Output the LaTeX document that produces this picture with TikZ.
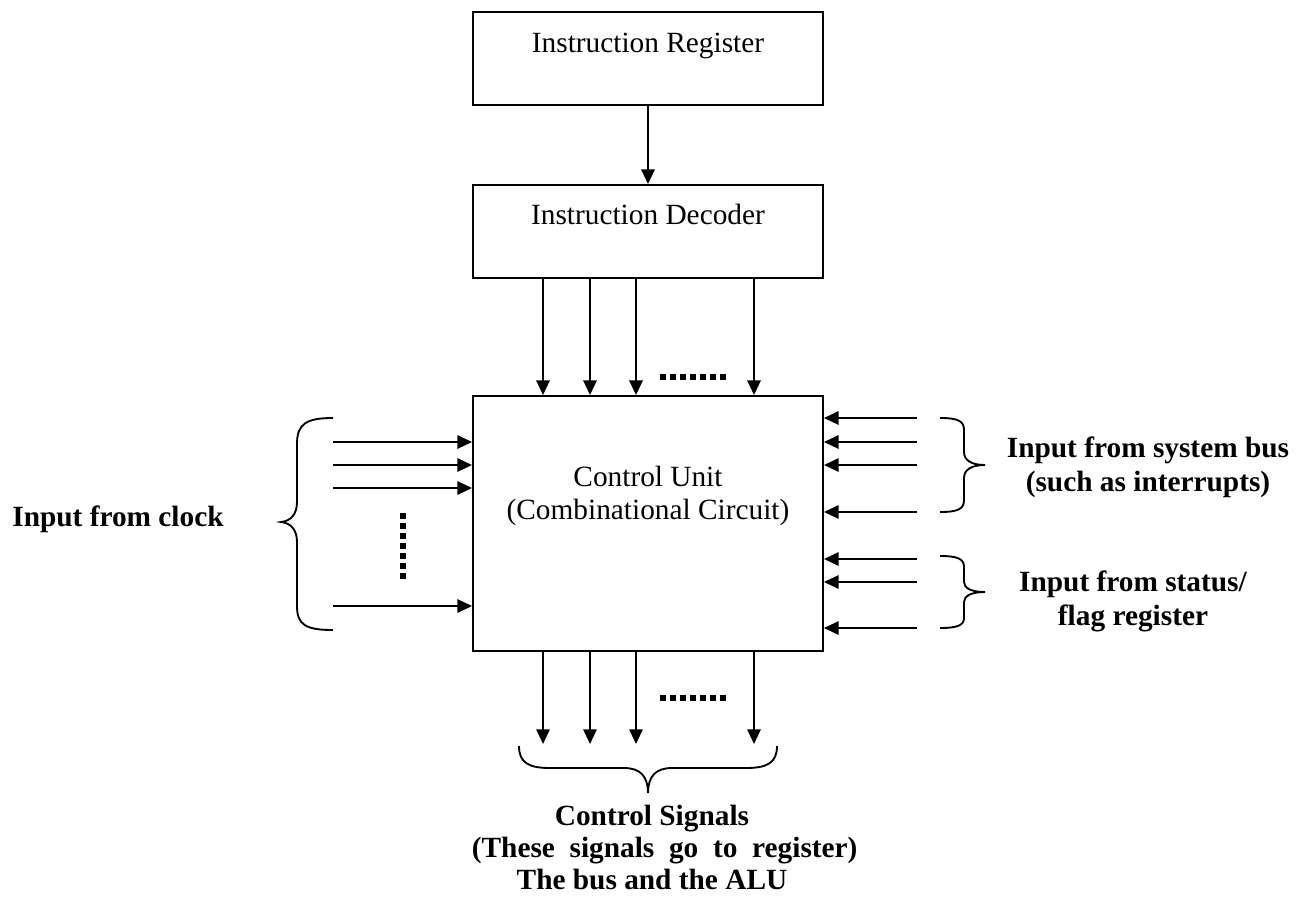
\documentclass[tikz,border=0pt]{standalone}
\usepackage{fontspec}
\setmainfont{Liberation Serif}
\usetikzlibrary{arrows.meta,fit}
\begin{document}
\begin{tikzpicture}[x=0.75pt,y=-0.75pt,
  box/.style={draw,line width=1.4pt,inner sep=0pt},
  wire/.style={line width=1.4pt,-{Triangle[length=11pt,width=10pt]}},
  brace/.style={line width=1.4pt},
  dots/.style={line width=3.9pt,dash pattern=on 4.5pt off 3pt},
  txt/.style={font=\fontsize{22}{24.75}\selectfont,align=center,inner sep=0pt,anchor=base},
  lbl/.style={font=\fontsize{22}{25.5}\selectfont\bfseries,align=center,inner sep=0pt,anchor=base}]
\useasboundingbox (0,0) rectangle (1302,897);

% boxes
\node[box,fit={(473,12) (823,105)}] (ir) {};
\node[box,fit={(473,185) (823,278)}] (dec) {};
\node[box,fit={(473,396) (823,651)}] (cu) {};

% box texts (base anchor = baseline of the last line)
\node[txt] (irt) at (648,52) {Instruction Register};
\node[txt] (dect) at (648,224) {Instruction Decoder};
\node[txt] (cut) at (648,519) {Control Unit\\(Combinational Circuit)};

% register to decoder
\draw[wire] (ir) -- (dec);

% decoder outputs into the control unit
\foreach \x [count=\i] in {543,590,636,754} {
  \coordinate (d\i) at (\x,0);
  \draw[wire] (dec.south -| d\i) -- (cu.north -| d\i);
}
\draw[dots] (660,377) -- (728,377);

% clock inputs
\foreach \y [count=\i] in {442,465,488,606} {
  \coordinate (c\i) at (333,\y);
  \draw[wire] (c\i) -- (c\i -| cu.west);
}
\draw[dots] (403,513) -- (403,579);
\draw[brace] (333,418) .. controls (306,418) and (297,424) .. (297,444)
  -- (297,502) .. controls (297,514) and (291,521) .. (281,522)
  .. controls (291,523) and (297,530) .. (297,542)
  -- (297,606) .. controls (297,625) and (306,630) .. (333,630);
\node[lbl] (clk) at (118,526) {Input from clock};

% system bus inputs
\foreach \y [count=\i] in {418,442,465,512} {
  \coordinate (b\i) at (917,\y);
  \draw[wire] (b\i) -- (b\i -| cu.east);
}
\draw[brace] (940,418) .. controls (958,418) and (964,421) .. (964,430)
  -- (964,452) .. controls (964,460) and (971,465) .. (985,465)
  .. controls (971,465) and (964,470) .. (964,478)
  -- (964,500) .. controls (964,509) and (958,512) .. (940,512);
\node[lbl] (bus) at (1148,491) {Input from system bus\\(such as interrupts)};

% status/flag inputs
\foreach \y [count=\i] in {559,582,628} {
  \coordinate (f\i) at (917,\y);
  \draw[wire] (f\i) -- (f\i -| cu.east);
}
\draw[brace] (940,556) .. controls (958,556) and (964,559) .. (964,567)
  -- (964,582) .. controls (964,588) and (971,592) .. (985,592)
  .. controls (971,592) and (964,596) .. (964,602)
  -- (964,618) .. controls (964,625) and (958,628) .. (940,628);
\node[lbl] (flag) at (1133,625) {Input from status/\\flag register};

% control signal outputs
\foreach \x [count=\i] in {543,590,636,754} {
  \coordinate (o\i) at (\x,744);
  \draw[wire] (cu.south -| o\i) -- (o\i);
}
\draw[dots] (660,698) -- (728,698);
\draw[brace] (519,746) .. controls (519,763) and (529,768) .. (550,768)
  -- (624,768) .. controls (640,768) and (648,776) .. (648,793)
  .. controls (648,776) and (656,768) .. (672,768)
  -- (746,768) .. controls (767,768) and (777,763) .. (777,746);
\node[lbl,font=\fontsize{22}{24}\selectfont\bfseries] (sig) at (652,889)
  {Control Signals\\\hspace*{19pt}(These\hskip 11pt signals\hskip 11pt go\hskip 11pt to\hskip 11pt register)\\The bus and the ALU};
\end{tikzpicture}
\end{document}
